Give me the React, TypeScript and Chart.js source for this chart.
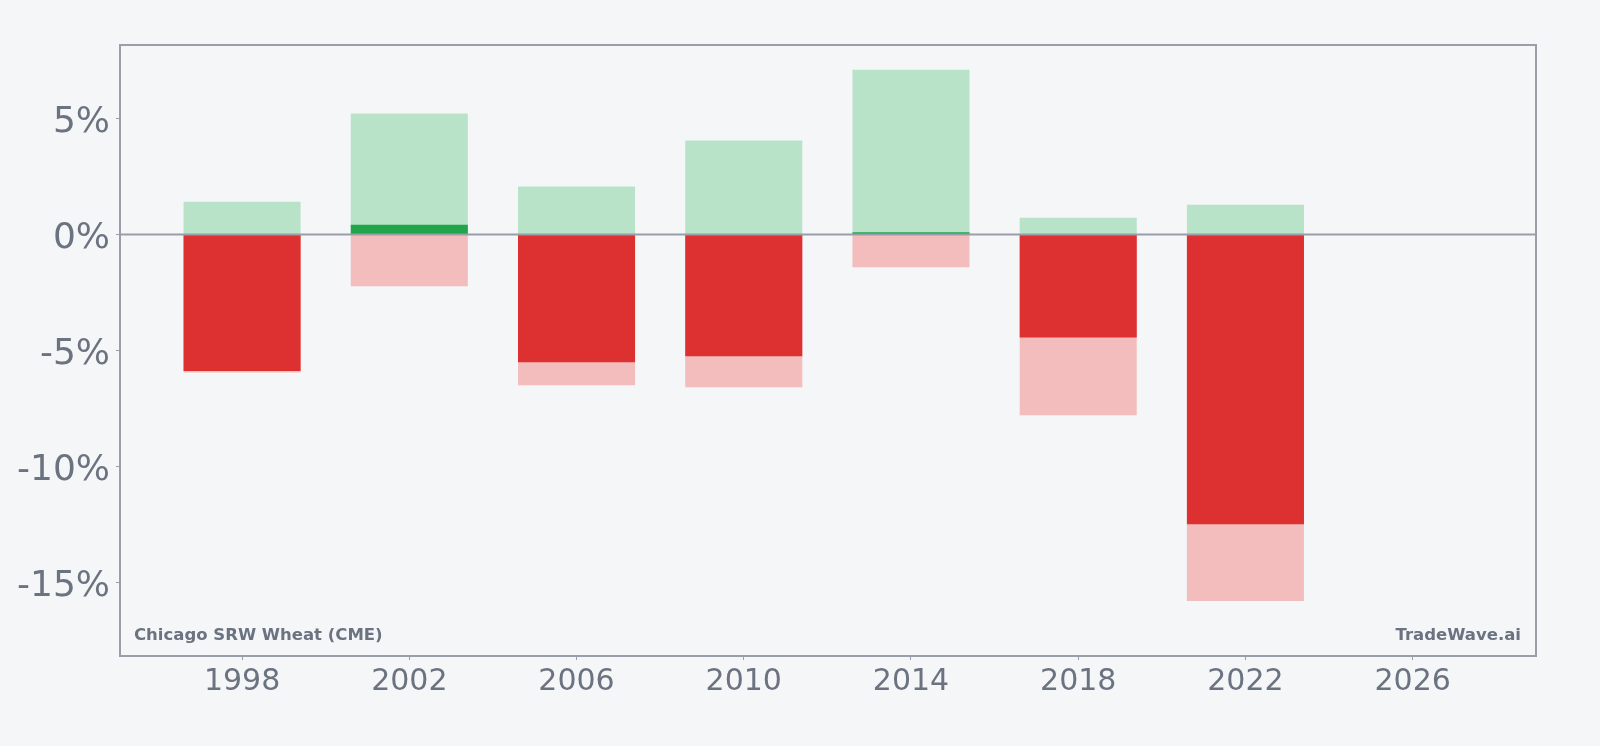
import React, { useEffect, useRef } from "react";
import { Chart, registerables } from "chart.js";

Chart.register(...registerables);

const years = [1998, 2002, 2006, 2010, 2014, 2018, 2022];
const maxGain = [1.42, 5.22, 2.07, 4.06, 7.11, 0.73, 1.29];
const maxLoss = [-5.95, -2.23, -6.5, -6.58, -1.41, -7.79, -15.8];
const actual = [-5.88, 0.43, -5.5, -5.24, 0.1, -4.44, -12.49];
const xTicks = [1998, 2002, 2006, 2010, 2014, 2018, 2022, 2026];
const yTicks = [-15, -10, -5, 0, 5];
const leftLabel = "Chicago SRW Wheat (CME)";
const rightLabel = "TradeWave.ai";

const BG = "#f4f6f8";
const TEXT = "#6b7280";
const LINE = "#9a9ea8";
const FONT = "'DejaVu Sans', sans-serif";

export default function App() {
  const ref = useRef<HTMLCanvasElement | null>(null);

  useEffect(() => {
    if (!ref.current) return;
    const frame = {
      id: "frame",
      beforeDraw(chart: any) {
        const { ctx } = chart;
        ctx.save();
        ctx.fillStyle = BG;
        ctx.fillRect(0, 0, chart.width, chart.height);
        ctx.restore();
      },
      afterDatasetsDraw(chart: any) {
        const { ctx, chartArea } = chart;
        const y0 = chart.scales.y.getPixelForValue(0);
        ctx.save();
        ctx.strokeStyle = LINE;
        ctx.lineWidth = 2;
        ctx.beginPath();
        ctx.moveTo(chartArea.left, y0);
        ctx.lineTo(chartArea.right, y0);
        ctx.stroke();
        ctx.strokeRect(chartArea.left, chartArea.top, chartArea.right - chartArea.left, chartArea.bottom - chartArea.top);
        ctx.fillStyle = TEXT;
        ctx.font = `bold 16.5px ${FONT}`;
        ctx.textBaseline = "alphabetic";
        ctx.textAlign = "left";
        ctx.fillText(leftLabel, chartArea.left + 14, chartArea.bottom - 16);
        ctx.textAlign = "right";
        ctx.fillText(rightLabel, chartArea.right - 15, chartArea.bottom - 16);
        ctx.restore();
      },
    };

    const chart = new Chart(ref.current, {
      type: "bar",
      data: {
        datasets: [
          {
            label: "Actual",
            data: years.map((x, i) => ({ x, y: actual[i] })),
            backgroundColor: actual.map((v) => (v >= 0 ? "#22a44b" : "#dc3031")),
            grouped: false,
            order: 0,
          } as any,
          {
            label: "Max gain",
            data: years.map((x, i) => ({ x, y: maxGain[i] })),
            backgroundColor: "#b9e3c9",
            grouped: false,
            order: 1,
          },
          {
            label: "Max loss",
            data: years.map((x, i) => ({ x, y: maxLoss[i] })),
            backgroundColor: "#f3bdbd",
            grouped: false,
            order: 1,
          },
        ],
      },
      options: {
        animation: false,
        responsive: false,
        layout: { padding: { top: 45, right: 64, left: 0, bottom: 0 } },
        datasets: { bar: { categoryPercentage: 1, barPercentage: 0.7 } },
        plugins: { legend: { display: false }, tooltip: { enabled: false } },
        scales: {
          x: {
            type: "linear",
            min: 1995.08,
            max: 2028.95,
            offset: false,
            afterBuildTicks: (s: any) => {
              s.ticks = xTicks.map((v) => ({ value: v }));
            },
            afterFit: (s: any) => {
              s.height = 90;
            },
            grid: { offset: false, drawOnChartArea: false, drawTicks: true, tickLength: 4, color: LINE, tickColor: LINE },
            border: { display: false },
            ticks: {
              color: TEXT,
              font: { family: FONT, size: 30 },
              padding: 4,
              callback: (v: any) => String(v),
            },
          },
          y: {
            type: "linear",
            min: Math.min(...maxLoss) * 1.15,
            max: Math.max(...maxGain) * 1.15,
            afterBuildTicks: (s: any) => {
              s.ticks = yTicks.map((v) => ({ value: v }));
            },
            afterFit: (s: any) => {
              s.width = 120;
            },
            grid: { drawOnChartArea: false, drawTicks: true, tickLength: 4, color: LINE, tickColor: LINE },
            border: { display: false },
            ticks: {
              color: TEXT,
              font: { family: FONT, size: 36 },
              padding: 6,
              labelOffset: 4,
              callback: (v: any) => `${v}%`,
            },
          },
        },
      } as any,
      plugins: [frame],
    });
    return () => chart.destroy();
  }, []);

  return (
    <div style={{ position: "fixed", left: 0, top: 0, width: 1600, height: 746, background: BG }}>
      <canvas ref={ref} width={1600} height={746} style={{ display: "block" }} />
    </div>
  );
}
